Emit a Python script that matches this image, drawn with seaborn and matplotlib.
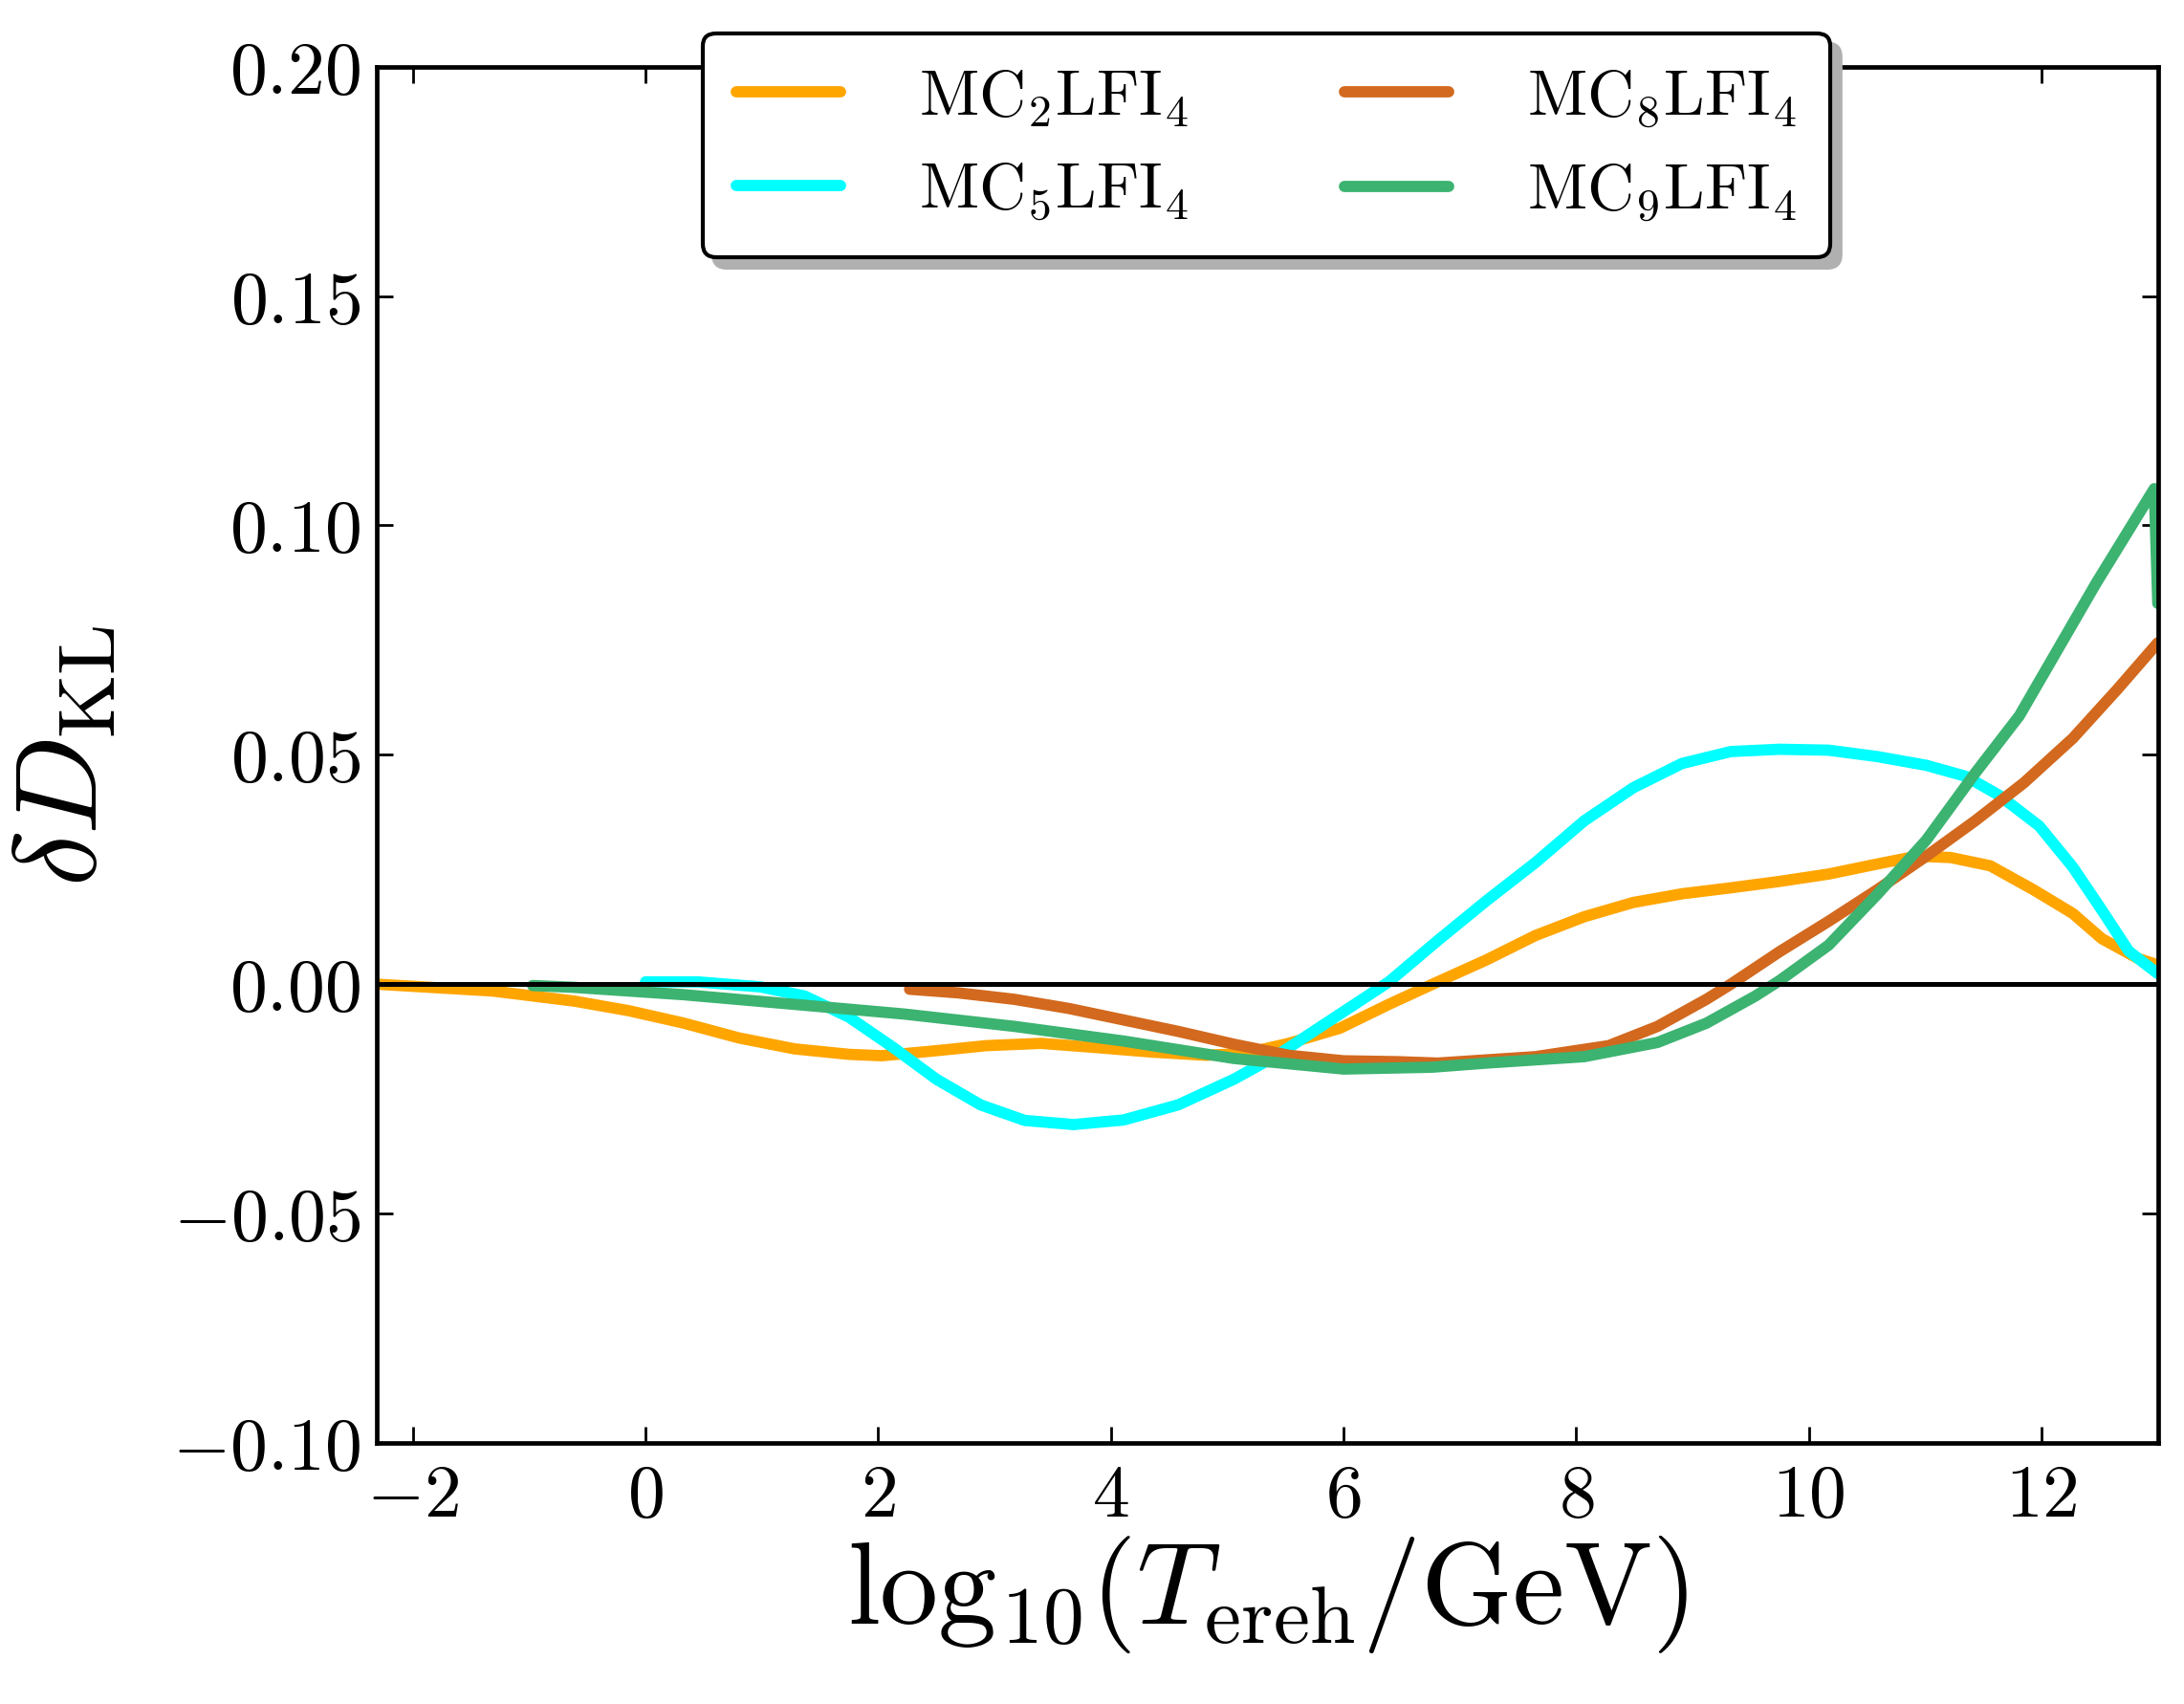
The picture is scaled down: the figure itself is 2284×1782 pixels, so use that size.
import numpy as np
import pandas as pd
import matplotlib
matplotlib.use("Agg")
import matplotlib.pyplot as plt
import seaborn as sns
from matplotlib.ticker import FuncFormatter, FixedLocator

# ---------------- data ----------------
labels = [r"$\mathrm{MC}_2\mathrm{LFI}_4$", r"$\mathrm{MC}_5\mathrm{LFI}_4$",
          r"$\mathrm{MC}_8\mathrm{LFI}_4$", r"$\mathrm{MC}_9\mathrm{LFI}_4$"]
colors = ["#FFA500", "#00FFFF", "#D2691E", "#3CB371"]

x_mc2 = [-2.31, -1.31, -0.61, -0.14, 0.33, 0.80, 1.28, 1.75, 2.03, 2.46, 2.93, 3.40,
         3.87, 4.35, 4.82, 5.15, 5.53, 5.97, 6.39, 6.81, 7.23, 7.65, 8.07, 8.49, 8.91,
         9.33, 9.75, 10.17, 10.59, 10.93, 11.22, 11.56, 11.93, 12.27, 12.52, 12.83, 13.0]
y_mc2 = [0.0, -0.0015, -0.0037, -0.0058, -0.0085, -0.0117, -0.0141, -0.0153, -0.0156,
         -0.0146, -0.0134, -0.0129, -0.0138, -0.0148, -0.0155, -0.0151, -0.0129, -0.0096,
         -0.0044, 0.0005, 0.0053, 0.0106, 0.0147, 0.0178, 0.0197, 0.021, 0.0224, 0.024,
         0.0262, 0.0279, 0.0276, 0.0258, 0.0206, 0.0154, 0.0099, 0.0056, 0.0042]

x_mc5 = [0.0, 0.45, 0.99, 1.37, 1.75, 2.13, 2.50, 2.88, 3.26, 3.68, 4.11, 4.58, 5.06,
         5.43, 5.91, 6.39, 6.81, 7.23, 7.65, 8.07, 8.49, 8.91, 9.33, 9.75, 10.17, 10.59,
         11.01, 11.35, 11.64, 11.98, 12.27, 12.52, 12.75, 13.0]
y_mc5 = [0.0005, 0.0005, -0.0006, -0.0026, -0.0072, -0.0138, -0.0207, -0.0263, -0.0297,
         -0.0306, -0.0296, -0.0263, -0.0207, -0.0155, -0.0075, 0.0005, 0.0095, 0.0182,
         0.0265, 0.0356, 0.0428, 0.0481, 0.0507, 0.0512, 0.051, 0.0496, 0.0477, 0.0453,
         0.0411, 0.0345, 0.0255, 0.0161, 0.0072, 0.0023]

x_mc8 = [2.27, 2.69, 3.17, 3.64, 4.11, 4.58, 5.06, 5.53, 6.00, 6.47, 6.81, 7.65, 8.28,
         8.70, 9.12, 9.33, 9.75, 10.17, 10.59, 11.01, 11.43, 11.85, 12.27, 12.65, 13.0]
y_mc8 = [-0.0011, -0.0019, -0.0033, -0.0053, -0.0078, -0.0103, -0.0131, -0.0155, -0.0167,
         -0.0169, -0.0172, -0.0158, -0.0134, -0.0092, -0.0033, 0.0, 0.0071, 0.0137,
         0.0206, 0.0279, 0.0356, 0.0439, 0.0536, 0.0642, 0.0744]

x_mc9 = [-0.97, -0.61, 0.33, 1.28, 2.22, 3.17, 4.11, 5.06, 6.00, 6.76, 7.23, 8.07, 8.70,
         9.12, 9.54, 9.75, 10.17, 10.59, 11.01, 11.43, 11.81, 12.47, 12.97, 13.0]
y_mc9 = [-0.0003, -0.0007, -0.0023, -0.0044, -0.0065, -0.0092, -0.0124, -0.0162, -0.0185,
         -0.0181, -0.0172, -0.0158, -0.0127, -0.0085, -0.0026, 0.0008, 0.0085, 0.0196,
         0.0314, 0.046, 0.0585, 0.0874, 0.108, 0.083]

xticks = [-2, 0, 2, 4, 6, 8, 10, 12]
yticks = [-0.10, -0.05, 0.00, 0.05, 0.10, 0.15, 0.20]
xlim = (-2.31, 13.0)
ylim = (-0.10, 0.20)

# ---------------- style ----------------
sns.set_style("ticks")
plt.rcParams.update({
    "font.family": "serif",
    "font.serif": ["cmr10", "DejaVu Serif"],
    "mathtext.fontset": "cm",
    "axes.unicode_minus": False,
    "axes.formatter.use_mathtext": True,
    "text.color": "black",
    "axes.labelcolor": "black",
    "xtick.color": "black",
    "ytick.color": "black",
    "axes.edgecolor": "black",
})

frames = []
for lab, xs, ys in zip(labels, [x_mc2, x_mc5, x_mc8, x_mc9], [y_mc2, y_mc5, y_mc8, y_mc9]):
    frames.append(pd.DataFrame({"x": xs, "y": ys, "series": lab}))
df = pd.concat(frames, ignore_index=True)
palette = dict(zip(labels, colors))

fig = plt.figure(figsize=(22.84, 17.83), dpi=100)
ax = fig.add_axes([0.1725, 0.1531, 0.8155, 0.8073])

sns.lineplot(data=df, x="x", y="y", hue="series", hue_order=labels, palette=palette,
             sort=False, estimator=None, linewidth=8.5, ax=ax)
ax.axhline(0.0, color="black", lw=3.6, zorder=3)

ax.set_xlim(*xlim)
ax.set_ylim(*ylim)
ax.xaxis.set_major_locator(FixedLocator(xticks))
ax.yaxis.set_major_locator(FixedLocator(yticks))
ax.xaxis.set_major_formatter(FuncFormatter(lambda v, p: r"$%d$" % round(v)))
ax.yaxis.set_major_formatter(FuncFormatter(lambda v, p: r"$%.2f$" % v))
ax.tick_params(axis="both", which="major", direction="in", length=12, width=2,
               top=True, right=True, labelsize=56, color="black", labelcolor="black")
ax.tick_params(axis="x", pad=16)
ax.tick_params(axis="y", pad=12)
ax.minorticks_off()
for s in ax.spines.values():
    s.set_linewidth(3.4)
    s.set_color("black")

ax.set_xlabel(r"$\mathrm{log}_{10}(T_{\rm ereh}/{\rm GeV})$", fontsize=88, labelpad=2)
ax.set_ylabel(r"$\delta D_{\rm KL}$", fontsize=88, labelpad=40)

leg = ax.legend(loc="upper center", bbox_to_anchor=(0.4995, 1.048), ncol=2,
                fontsize=49, frameon=True, fancybox=True,
                shadow={"ox": 8, "oy": -8, "color": "0.69", "alpha": 1},
                handlelength=1.6, handletextpad=1.2, columnspacing=2.4,
                labelspacing=0.5, borderpad=0.52, framealpha=1)
leg.get_frame().set_edgecolor("black")
leg.get_frame().set_linewidth(3)
for line in leg.get_lines():
    line.set_linewidth(8.5)

fig.savefig("out.png", dpi=100)
